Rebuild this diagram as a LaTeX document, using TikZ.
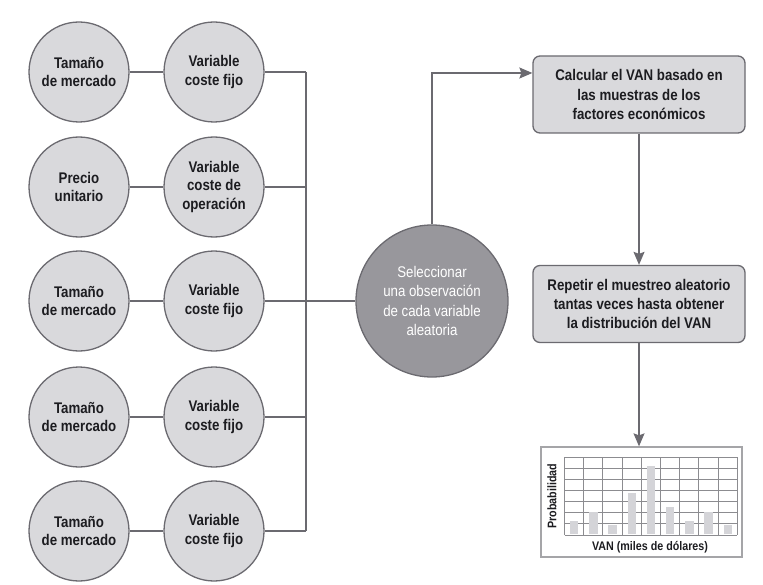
\documentclass[tikz,border=0pt]{standalone}
\usepackage{fontspec}
\setmainfont{Liberation Sans}[FakeStretch=0.86]
\usepackage{tikz}
\usetikzlibrary{shapes,arrows,arrows.meta,positioning,fit}

\definecolor{linegray}{HTML}{6B6A70}
\definecolor{softgray}{HTML}{D9D9DC}
\definecolor{darkgray}{HTML}{98979C}
\definecolor{txtgray}{HTML}{1C1C20}
\definecolor{gridgray}{HTML}{8C8C90}
\definecolor{bargray}{HTML}{D4D4D8}
\definecolor{framegray}{HTML}{A5A5A8}

\begin{document}
\begin{tikzpicture}[x=1bp, y=-1bp]
			\tikzstyle{Factor} 	= [circle, draw=linegray, fill=softgray, line width=1.3bp, minimum size=100bp, inner sep=0pt, align=center, text=txtgray, font=\bfseries\fontsize{15.5}{18.5}\selectfont]
			\tikzstyle{Select}	= [circle, draw=linegray, fill=darkgray, line width=1.3bp, minimum size=152bp, inner sep=0pt, align=center, text=white, font=\fontsize{15.5}{19.5}\selectfont]
			\tikzstyle{Step}	= [rectangle, rounded corners=7bp, draw=linegray, fill=softgray, line width=1.3bp, minimum width=212bp, minimum height=77bp, align=center, text=txtgray, font=\bfseries\fontsize{15.5}{19.5}\selectfont]
			\tikzstyle{Link}	= [draw=linegray, line width=1.3bp]
			\tikzstyle{Flow}	= [Link, -{Stealth[length=13bp, width=11bp, inset=2bp]}]
			\tikzstyle{Grid}	= [gridgray, line width=0.9bp]
			\tikzstyle{Bar}		= [fill=bargray]

			\useasboundingbox (0,0) rectangle (763,585);

			% random inputs
			\node (t1) at (79, 72)  [Factor] {Tamaño\\de mercado};
			\node (v1) at (214, 72) [Factor] {Variable\\coste fijo};
			\node (t2) at (79, 187) [Factor] {Precio\\unitario};
			\node (v2) at (214, 187) [Factor] {Variable\\coste de\\operación};
			\node (t3) at (79, 301) [Factor] {Tamaño\\de mercado};
			\node (v3) at (214, 301) [Factor] {Variable\\coste fijo};
			\node (t4) at (79, 417) [Factor] {Tamaño\\de mercado};
			\node (v4) at (214, 417) [Factor] {Variable\\coste fijo};
			\node (t5) at (79, 531) [Factor] {Tamaño\\de mercado};
			\node (v5) at (214, 531) [Factor] {Variable\\coste fijo};

			\node (sel) at (432, 301) [Select] {Seleccionar\\una observación\\de cada variable\\aleatoria};
			\node (calc) at (639, 94.5) [Step] {Calcular el VAN basado en\\las muestras de los\\factores económicos};
			\node (rep) at (639, 304) [Step] {Repetir el muestreo aleatorio\\tantas veces hasta obtener\\la distribución del VAN};
			\node (chart) at (641.5, 502) [draw=framegray, line width=1.3bp, minimum width=201bp, minimum height=110bp, inner sep=0pt] {};

			% bus
			\foreach \r/\y in {1/72, 2/187, 3/301, 4/417, 5/531} {
				\coordinate (b\r) at (306, \y);
				\draw [Link] (t\r) to (v\r);
				\draw [Link] (v\r) to (b\r);
			}
			\draw [Link] (b1) to (b5);
			\draw [Link] (b3) to (sel);

			\draw [Flow] (sel) |- ([yshift=21.5bp]calc.west);
			\draw [Flow] (calc) to (rep);
			\draw [Flow] (rep) to (rep |- chart.north);

			% histogram
			\foreach \i in {0,...,9}
				\draw [Grid] (564.5+\i*19.2, 457) -- (564.5+\i*19.2, 535);
			\foreach \j in {0,...,7}
				\draw [Grid] (564.5, 457+\j*11.14) -- (737.3, 457+\j*11.14);
			\foreach \i/\h in {0/13, 1/22, 2/9, 3/41, 4/68, 5/27, 6/13, 7/22, 8/9}
				\fill [Bar] (569.9+\i*19.2, 534.4) rectangle (578.3+\i*19.2, 534.4-\h);
			\node (ylab) at (552, 496) [rotate=90, text=txtgray, font=\bfseries\fontsize{12.5}{14}\selectfont] {Probabilidad};
			\node (xlab) at (650, 547) [text=txtgray, font=\bfseries\fontsize{12.5}{14}\selectfont] {VAN (miles de dólares)};
		\end{tikzpicture}
\end{document}
